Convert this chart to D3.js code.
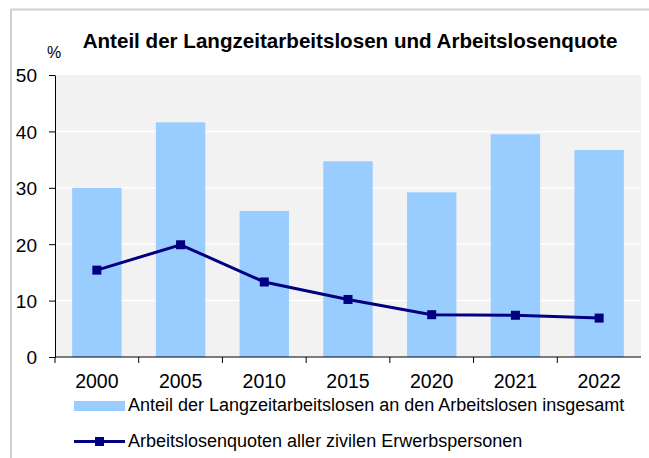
<!DOCTYPE html>
<html>
<head>
<meta charset="utf-8">
<script src="https://cdn.jsdelivr.net/npm/d3@7"></script>
<style>
  body { margin: 0; background: #fff; }
  svg text { font-family: "Liberation Sans", Arial, sans-serif; fill: #000; }
</style>
</head>
<body>
<div id="container"></div>
<script>
/* DATA */
const years = ["2000", "2005", "2010", "2015", "2020", "2021", "2022"];
const langzeitAnteil = [30.0, 41.6, 25.9, 34.7, 29.2, 39.5, 36.7];
const arbeitslosenquote = [15.4, 19.9, 13.3, 10.2, 7.5, 7.4, 6.9];
const yTicks = [0, 10, 20, 30, 40, 50];

/* CONSTANTS */
const width = 649, height = 458;
const margin = { top: 75, bottom: 101, left: 55, right: 8 };

const svg = d3.select("#container")
  .append("svg")
  .attr("width", width)
  .attr("height", height);

// outer frame (top and left edge visible)
svg.append("line")
  .attr("x1", 11).attr("x2", width).attr("y1", 9.5).attr("y2", 9.5)
  .attr("stroke", "#d0d0d0").attr("stroke-width", 2);
svg.append("line")
  .attr("x1", 11).attr("x2", 11).attr("y1", 9).attr("y2", height)
  .attr("stroke", "#d0d0d0").attr("stroke-width", 2);

/* SCALES */
const xScale = d3.scaleBand()
  .domain(years)
  .range([margin.left, width - margin.right])
  .paddingInner(0.41)
  .paddingOuter(0.205);

const yScale = d3.scaleLinear()
  .domain([0, 50])
  .range([height - margin.bottom, margin.top]);

// plot background
svg.append("rect")
  .attr("x", margin.left)
  .attr("y", margin.top)
  .attr("width", width - margin.right - margin.left)
  .attr("height", yScale(0) - margin.top)
  .attr("fill", "#f2f2f2");

// gridlines
svg.append("g")
  .selectAll("line")
  .data(yTicks.filter(d => d > 0 && d < 50))
  .join("line")
  .attr("x1", margin.left)
  .attr("x2", width - margin.right)
  .attr("y1", d => yScale(d))
  .attr("y2", d => yScale(d))
  .attr("stroke", "#fff")
  .attr("stroke-width", 1.5);

// bars
svg.append("g")
  .selectAll("rect")
  .data(langzeitAnteil)
  .join("rect")
  .attr("x", (d, i) => xScale(years[i]))
  .attr("y", d => yScale(d))
  .attr("width", xScale.bandwidth())
  .attr("height", d => yScale(0) - yScale(d))
  .attr("fill", "#99ccff");

// axes
const yAxis = d3.axisLeft(yScale).tickValues(yTicks).tickSize(6).tickSizeOuter(0);
const yG = svg.append("g")
  .attr("transform", `translate(${margin.left},0)`)
  .call(yAxis);
yG.select(".domain").attr("stroke", "#000");
yG.selectAll(".tick line").attr("stroke", "#000");
yG.selectAll(".tick text")
  .attr("x", -18)
  .attr("dy", "0.36em")
  .style("font-size", "19px")
  .style("font-family", "'Liberation Sans', Arial, sans-serif");

const xG = svg.append("g")
  .attr("transform", `translate(0,${yScale(0)})`);
xG.append("line")
  .attr("x1", margin.left).attr("x2", width - margin.right)
  .attr("stroke", "#000");
// tick marks sit between categories
const step = xScale.step();
xG.selectAll(".xtick")
  .data(years)
  .join("line")
  .attr("class", "xtick")
  .attr("x1", (d, i) => margin.left + i * step)
  .attr("x2", (d, i) => margin.left + i * step)
  .attr("y1", 0).attr("y2", 6)
  .attr("stroke", "#000");
xG.selectAll(".xlabel")
  .data(years)
  .join("text")
  .attr("class", "xlabel")
  .attr("x", d => xScale(d) + xScale.bandwidth() / 2)
  .attr("y", 31)
  .attr("text-anchor", "middle")
  .style("font-size", "19.5px")
  .text(d => d);

// line
const line = d3.line()
  .x((d, i) => xScale(years[i]) + xScale.bandwidth() / 2)
  .y(d => yScale(d));

svg.append("path")
  .datum(arbeitslosenquote)
  .attr("d", line)
  .attr("fill", "none")
  .attr("stroke", "#000080")
  .attr("stroke-width", 3);

svg.append("g")
  .selectAll("rect")
  .data(arbeitslosenquote)
  .join("rect")
  .attr("x", (d, i) => xScale(years[i]) + xScale.bandwidth() / 2 - 4.5)
  .attr("y", d => yScale(d) - 4.5)
  .attr("width", 9)
  .attr("height", 9)
  .attr("fill", "#000080");

// title
svg.append("text")
  .attr("x", 350)
  .attr("y", 48)
  .attr("text-anchor", "middle")
  .style("font-size", "20.6px")
  .style("font-weight", "bold")
  .text("Anteil der Langzeitarbeitslosen und Arbeitslosenquote");

svg.append("text")
  .attr("x", 47)
  .attr("y", 58)
  .style("font-size", "16px")
  .text("%");

// legend
const legend = svg.append("g");
legend.append("rect")
  .attr("x", 74).attr("y", 401)
  .attr("width", 51).attr("height", 10)
  .attr("fill", "#99ccff");
legend.append("text")
  .attr("x", 128).attr("y", 411)
  .style("font-size", "18px")
  .text("Anteil der Langzeitarbeitslosen an den Arbeitslosen insgesamt");

legend.append("line")
  .attr("x1", 74).attr("x2", 125)
  .attr("y1", 441.5).attr("y2", 441.5)
  .attr("stroke", "#000080").attr("stroke-width", 3);
legend.append("rect")
  .attr("x", 95).attr("y", 437)
  .attr("width", 9).attr("height", 9)
  .attr("fill", "#000080");
legend.append("text")
  .attr("x", 128).attr("y", 447)
  .style("font-size", "18px")
  .text("Arbeitslosenquoten aller zivilen Erwerbspersonen");
</script>
</body>
</html>
